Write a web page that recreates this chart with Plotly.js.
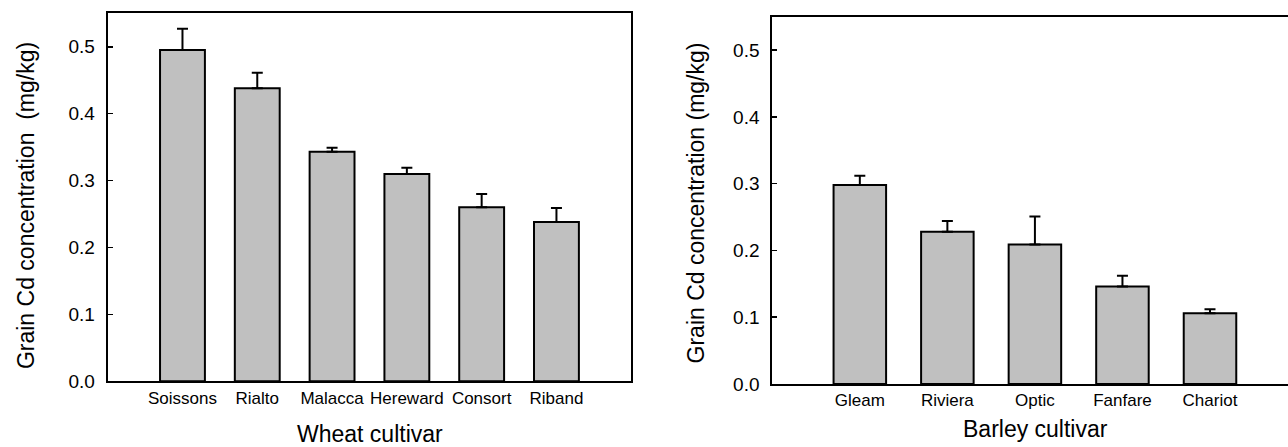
<!DOCTYPE html>
<html>
<head>
<meta charset="utf-8">
<script src="https://cdn.plot.ly/plotly-3.0.1.min.js"></script>
<style>
  html, body { margin: 0; padding: 0; background: #ffffff; }
  #chart { width: 1288px; height: 447px; }
</style>
</head>
<body>
<div id="chart"></div>
<script>
// Grain cadmium concentration by cultivar (mean with upper error bar)
const wheatCultivars = ["Soissons", "Rialto", "Malacca", "Hereward", "Consort", "Riband"];
const wheatCd = [0.495, 0.438, 0.343, 0.310, 0.260, 0.238];
const wheatErr = [0.032, 0.023, 0.006, 0.009, 0.020, 0.021];

const barleyCultivars = ["Gleam", "Riviera", "Optic", "Fanfare", "Chariot"];
const barleyCd = [0.298, 0.228, 0.209, 0.146, 0.106];
const barleyErr = [0.014, 0.016, 0.042, 0.016, 0.006];

const FONT = "Arial, 'Liberation Sans', sans-serif";
const BAR_FILL = "#c0c0c0";

function barTrace(names, values, errs, xa, ya) {
  return {
    type: "bar",
    x: names.map((_, i) => i),
    y: values,
    width: 0.6,
    xaxis: xa,
    yaxis: ya,
    marker: { color: BAR_FILL, line: { color: "#000000", width: 2 } },
    error_y: {
      type: "data",
      symmetric: false,
      array: errs,
      arrayminus: errs.map(() => 0),
      color: "#000000",
      thickness: 2,
      width: 5.5
    },
    hoverinfo: "skip",
    showlegend: false
  };
}

const yCommon = {
  range: [0, 0.55],
  dtick: 0.1,
  tick0: 0,
  tickformat: ".1f",
  ticks: "inside",
  ticklen: 5,
  tickwidth: 1.5,
  tickcolor: "#000000",
  showline: true,
  linecolor: "#000000",
  linewidth: 2,
  showgrid: false,
  zeroline: false,
  ticklabelstandoff: 7,
  tickfont: { family: FONT, size: 19, color: "#000000" }
};

const xCommon = {
  showline: true,
  linecolor: "#000000",
  linewidth: 2,
  showgrid: false,
  zeroline: false,
  ticks: "",
  ticklabelstandoff: 0,
  tickfont: { family: FONT, size: 17, color: "#000000" }
};

const layout = {
  width: 1288,
  height: 447,
  margin: { l: 0, r: 0, t: 0, b: 0 },
  paper_bgcolor: "#ffffff",
  plot_bgcolor: "#ffffff",
  showlegend: false,
  bargap: 0.4,
  xaxis: Object.assign({}, xCommon, {
    domain: [0.0836, 0.4901],
    range: [-1, 6],
    tickvals: wheatCultivars.map((_, i) => i),
    ticktext: wheatCultivars,
    mirror: true,
    anchor: "y"
  }),
  yaxis: Object.assign({}, yCommon, {
    domain: [0.1470, 0.9702],
    mirror: true,
    anchor: "x"
  }),
  xaxis2: Object.assign({}, xCommon, {
    domain: [0.5996, 1],
    range: [-1, 4.891],
    tickvals: barleyCultivars.map((_, i) => i),
    ticktext: barleyCultivars,
    mirror: true,
    anchor: "y2"
  }),
  yaxis2: Object.assign({}, yCommon, {
    domain: [0.1409, 0.9626],
    mirror: false,
    anchor: "x2"
  }),
  annotations: [
    {
      text: "Grain Cd concentration\u00A0 (mg/kg)",
      xref: "paper", yref: "paper", x: 0.0202, y: 0.539,
      xanchor: "center", yanchor: "middle", textangle: -90, showarrow: false,
      font: { family: FONT, size: 23, color: "#000000" }
    },
    {
      text: "Wheat cultivar",
      xref: "paper", yref: "paper", x: 0.2875, y: 0.029,
      xanchor: "center", yanchor: "middle", showarrow: false,
      font: { family: FONT, size: 23, color: "#000000" }
    },
    {
      text: "Grain Cd concentration (mg/kg)",
      xref: "paper", yref: "paper", x: 0.5411, y: 0.547,
      xanchor: "center", yanchor: "middle", textangle: -90, showarrow: false,
      font: { family: FONT, size: 23, color: "#000000" }
    },
    {
      text: "Barley cultivar",
      xref: "paper", yref: "paper", x: 0.8036, y: 0.041,
      xanchor: "center", yanchor: "middle", showarrow: false,
      font: { family: FONT, size: 23, color: "#000000" }
    }
  ]
};

const data = [
  barTrace(wheatCultivars, wheatCd, wheatErr, "x", "y"),
  barTrace(barleyCultivars, barleyCd, barleyErr, "x2", "y2")
];

Plotly.newPlot("chart", data, layout, { staticPlot: true, displayModeBar: false });
</script>
</body>
</html>
